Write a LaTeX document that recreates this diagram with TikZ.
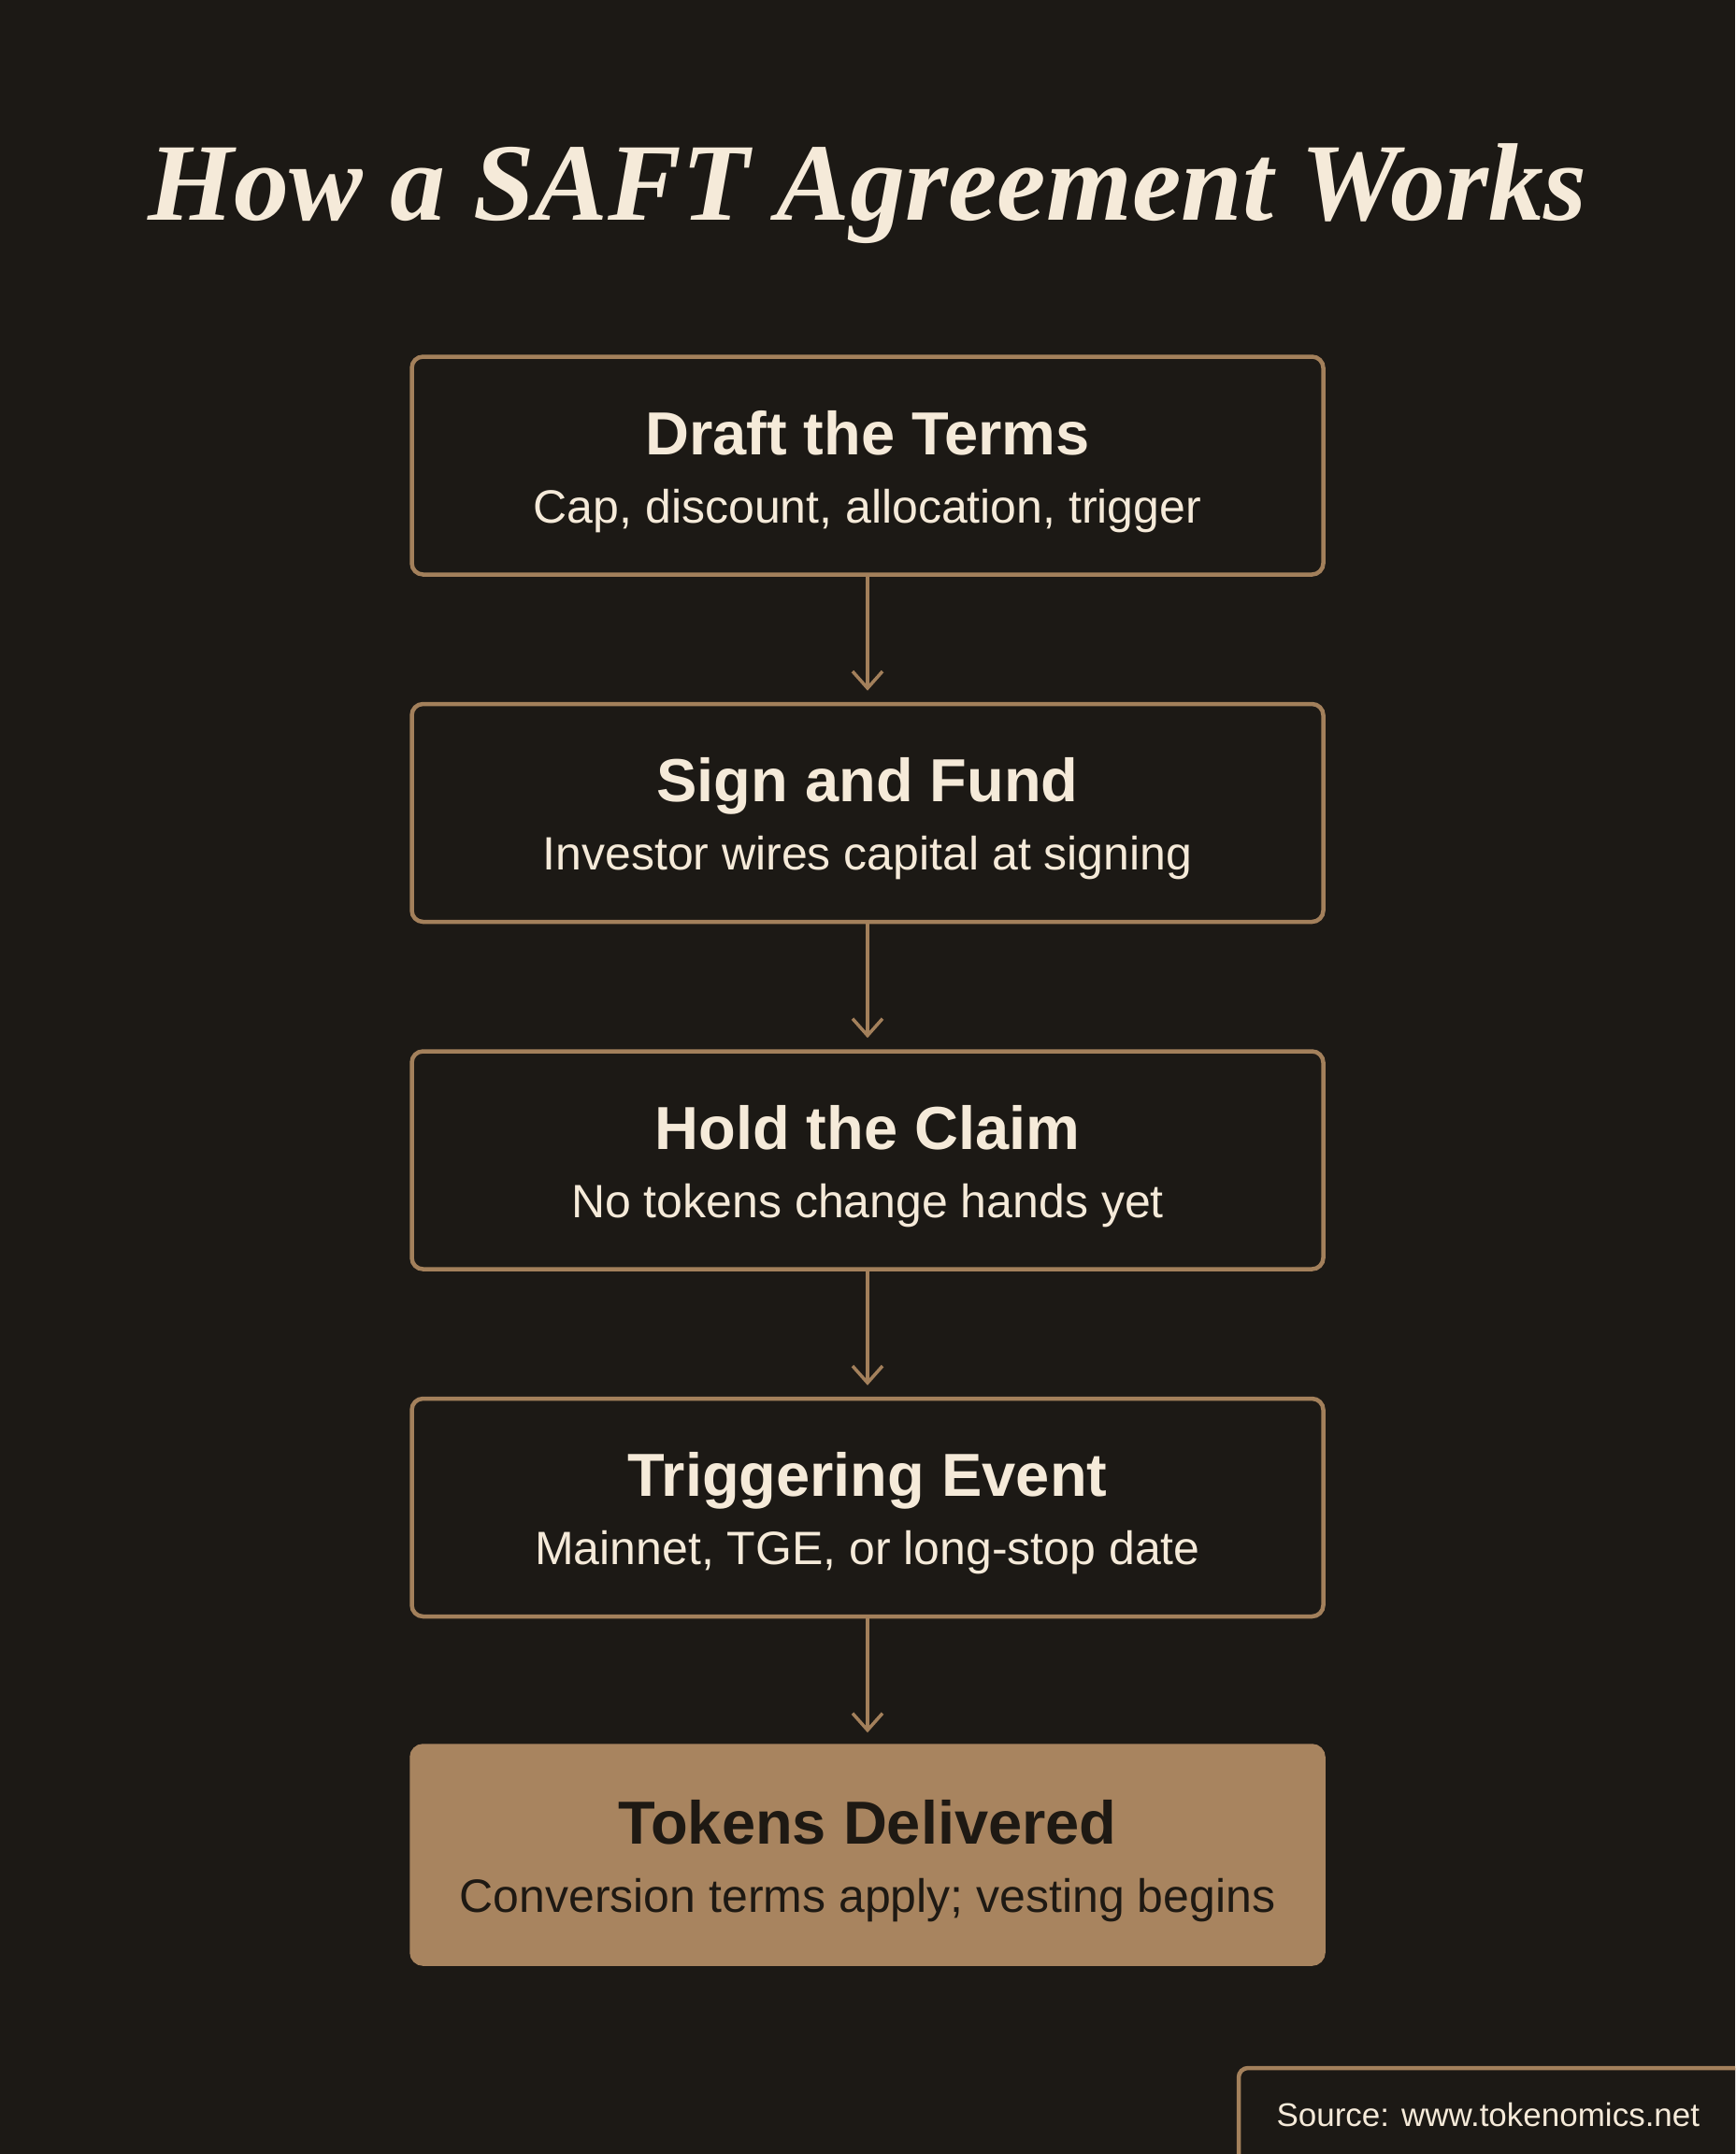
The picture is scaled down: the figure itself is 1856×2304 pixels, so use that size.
\documentclass[tikz,border=0pt]{standalone}
\usepackage{fontspec}
\setmainfont{Liberation Sans}
\newfontfamily\titleserif{Liberation Serif}
\usetikzlibrary{arrows.meta,positioning}

\definecolor{bgdark}{HTML}{1C1915}
\definecolor{tan}{HTML}{A3805B}
\definecolor{tanfill}{HTML}{A8845F}
\definecolor{cream}{HTML}{F5EAD9}
\definecolor{inkdark}{HTML}{1E1913}

\newcommand{\headfont}{\fontsize{65}{73}\selectfont\bfseries}
\newcommand{\subfont}{\fontsize{50}{73}\selectfont}

\begin{document}
\begin{tikzpicture}[
        x=1pt, y=1pt,
        node distance=134pt,
        stepbox/.style={rectangle, draw=tan, line width=4.5pt, rounded corners=12pt,
            fill=bgdark, text=cream, minimum width=975pt, minimum height=233pt,
            align=center, inner sep=0pt, font=\fontsize{50}{73}\selectfont,
            text height=133pt, text depth=11pt},
        lastbox/.style={stepbox, fill=tanfill, draw=tanfill, text=inkdark},
        flow/.style={draw=tan, line width=3.5pt, shorten >=12pt,
            -{Straight Barb[length=18pt, width=32pt, line width=3.5pt]}}
    ]
    % background and page size
    \fill[bgdark] (0,0) rectangle (1856,-2304);
    \useasboundingbox (0,0) rectangle (1856,-2304);

    % title
    \node[text=cream, font=\titleserif\fontsize{118}{130}\selectfont\bfseries\itshape]
        (title) at (928,-207) {How a SAFT Agreement Works};

    % steps
    \node[stepbox] (draft) at (928,-498) {\headfont Draft the Terms\\\subfont Cap, discount, allocation, trigger};
    \node[stepbox, below=of draft] (sign) {\headfont Sign and Fund\\\subfont Investor wires capital at signing};
    \node[stepbox, below=of sign] (hold) {\headfont Hold the Claim\\\subfont No tokens change hands yet};
    \node[stepbox, below=of hold] (trigger) {\headfont Triggering Event\\\subfont Mainnet, TGE, or long-stop date};
    \node[lastbox, below=of trigger] (delivered) {\headfont Tokens Delivered\\\subfont Conversion terms apply; vesting begins};

    \draw[flow] (draft) -- (sign);
    \draw[flow] (sign) -- (hold);
    \draw[flow] (hold) -- (trigger);
    \draw[flow] (trigger) -- (delivered);

    % source tag
    \begin{scope}
        \clip (0,0) rectangle (1856,-2304);
        \draw[tan, line width=4.5pt, rounded corners=10pt, fill=bgdark] (1325,-2212) rectangle (1880,-2330);
    \end{scope}
    \node[text=cream, font=\fontsize{35}{42}\selectfont, anchor=west] (source) at (1362,-2262) {Source: www.tokenomics.net};
\end{tikzpicture}
\end{document}
